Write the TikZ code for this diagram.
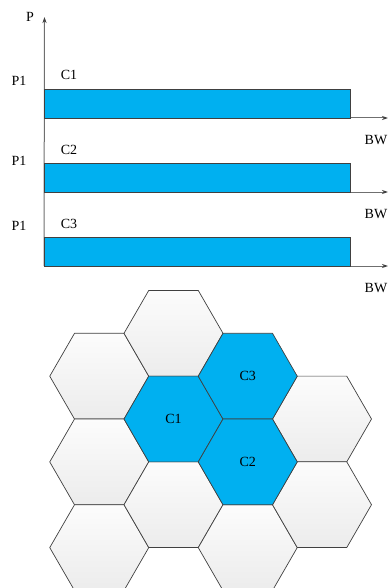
\documentclass[tikz,border=0pt]{standalone}
\usepackage{fontspec}
\setmainfont{Liberation Serif}
\usetikzlibrary{shapes.geometric,arrows.meta}
\definecolor{cblue}{HTML}{00B0F0}
\definecolor{edgec}{HTML}{404040}
\definecolor{axisc}{HTML}{6F6F6F}
\definecolor{hexlight}{HTML}{FCFCFC}
\definecolor{hexgray}{HTML}{ECECEC}
\begin{document}
\begin{tikzpicture}[x=1pt,y=-1pt,
  lbl/.style={font=\fontsize{14}{16}\selectfont, inner sep=0pt},
  bar/.style={draw=edgec, line width=0.9pt, fill=cblue, minimum width=306pt, minimum height=29pt, inner sep=0pt, outer sep=0pt},
  axisline/.style={draw=axisc, line width=1pt, -{Stealth[length=6pt,width=4pt,color=edgec,fill=edgec]}},
  hexc/.style={regular polygon, regular polygon sides=6, minimum size=99pt, inner sep=0pt, outer sep=0pt, draw=edgec, line width=0.7pt},
  hexg/.style={hexc, top color=hexlight, bottom color=hexgray},
  hexb/.style={hexc, fill=cblue, font=\fontsize{14}{16}\selectfont}]
\useasboundingbox (0,0) rectangle (388,588);
\clip (0,0) rectangle (388,588);
% bars
\node[bar] (r1) at (197,103.5) {};
\node[bar] (r2) at (197,177.5) {};
\node[bar] (r3) at (197,251.5) {};
\coordinate (ytop) at (44.5,17);
\coordinate (x1) at (388,118);
\coordinate (x2) at (388,192);
\coordinate (x3) at (388,266);
\draw[axisline] (r3.south west) -- (ytop);
\draw[axisline] (r1.south west) -- (x1);
\draw[axisline] (r2.south west) -- (x2);
\draw[axisline] (r3.south west) -- (x3);
\node[bar] at (r1) {};
\node[bar] at (r2) {};
\node[bar] at (r3) {};
% labels
\node[lbl] (lP) at (30,17) {P};
\node[lbl] (p1) at (19,81) {P1};
\node[lbl] (p2) at (19,161) {P1};
\node[lbl] (p3) at (19,226) {P1};
\node[lbl] (c1) at (69,75) {C1};
\node[lbl] (c2) at (69,150) {C2};
\node[lbl] (c3) at (69,224) {C3};
\node[lbl] (bw1) at (376,140) {BW};
\node[lbl] (bw2) at (376,214) {BW};
\node[lbl] (bw3) at (376,288) {BW};
% hexagons
\node[hexg] (h1) at (99.25,376.2) {};
\node[hexg] (h2) at (99.25,461.9) {};
\node[hexg] (h3) at (99.25,547.6) {};
\node[hexg] (h4) at (173.5,333.3) {};
\node[hexg] (h5) at (173.5,504.7) {};
\node[hexg] (h6) at (247.75,547.6) {};
\node[hexg] (h7) at (322,419) {};
\node[hexg] (h8) at (322,504.7) {};
\node[hexb] (hc1) at (173.5,419) {C1};
\node[hexb] (hc3) at (247.75,376.2) {C3};
\node[hexb] (hc2) at (247.75,461.9) {C2};
\end{tikzpicture}
\end{document}
